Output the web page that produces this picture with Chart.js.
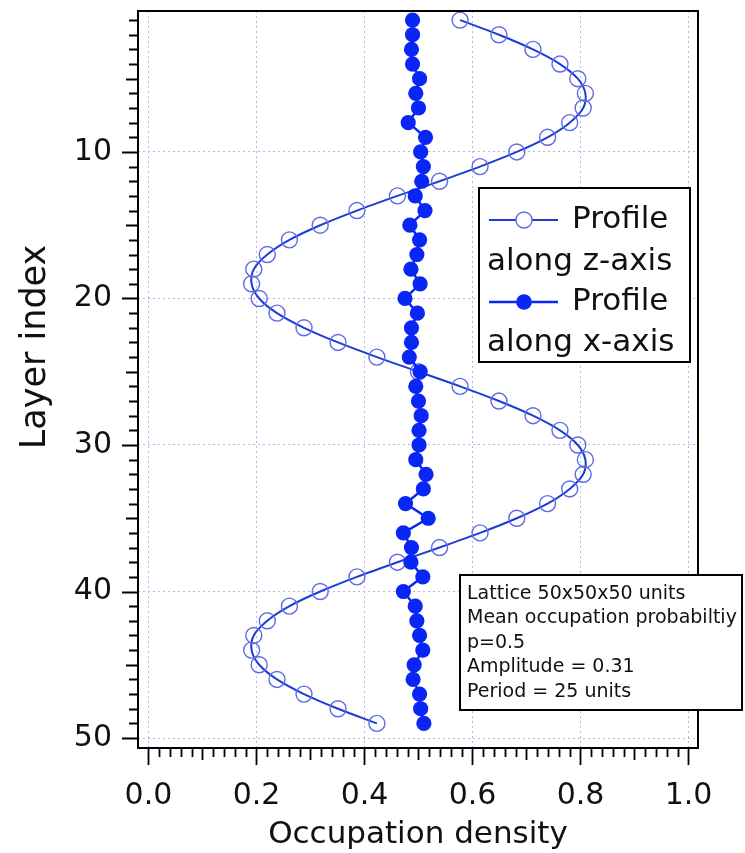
<!DOCTYPE html>
<html>
<head>
<meta charset="utf-8">
<script src="https://cdn.jsdelivr.net/npm/chart.js@4.4.1/dist/chart.umd.min.js"></script>
<style>
  body { margin: 0; background: #fff; }
  #wrap { width: 745px; height: 853px; }
</style>
</head>
<body>
<div id="wrap"><canvas id="profileChart"></canvas></div>
<script>
// layer index (1..49)
const layers = [1,2,3,4,5,6,7,8,9,10,11,12,13,14,15,16,17,18,19,20,21,22,23,24,25,
  26,27,28,29,30,31,32,33,34,35,36,37,38,39,40,41,42,43,44,45,46,47,48,49];

// profile along z-axis (open circles)
const zProfile = [0.577,0.649,0.712,0.762,0.795,0.809,0.805,0.780,0.739,0.682,0.614,0.539,0.461,
  0.386,0.318,0.261,0.220,0.195,0.191,0.205,0.238,0.288,0.351,0.423,0.500,
  0.577,0.649,0.712,0.762,0.795,0.809,0.805,0.780,0.739,0.682,0.614,0.539,0.461,
  0.386,0.318,0.261,0.220,0.195,0.191,0.205,0.238,0.288,0.351,0.423];

// profile along x-axis (filled circles)
const xProfile = [0.489,0.489,0.487,0.489,0.502,0.495,0.500,0.481,0.513,0.504,0.509,0.506,0.494,
  0.512,0.484,0.502,0.497,0.486,0.503,0.475,0.498,0.487,0.487,0.483,0.503,
  0.495,0.500,0.505,0.501,0.501,0.495,0.514,0.509,0.476,0.518,0.472,0.487,0.486,
  0.508,0.472,0.494,0.497,0.502,0.508,0.492,0.490,0.502,0.504,0.510];

const xTicks = [0, 0.2, 0.4, 0.6, 0.8, 1.0];
const yTicks = [10, 20, 30, 40, 50];

const infoLines = ['Lattice 50x50x50 units', 'Mean occupation probabiltiy', 'p=0.5',
  'Amplitude = 0.31', 'Period = 25 units'];

const FONT = '"DejaVu Sans", sans-serif';
const BLUE = '#0a26f5';
const ZLINE = '#1c3cd4';
const ZRING = '#5d6ce6';

const toPoints = (vals) => vals.map((v, i) => ({ x: v, y: layers[i] }));

// frame, minor ticks, titles, legend and text box
const decor = {
  id: 'decor',
  afterDraw(chart) {
    const ctx = chart.ctx;
    const a = chart.chartArea;
    const xs = chart.scales.x, ys = chart.scales.y;
    ctx.save();
    ctx.strokeStyle = '#000';
    ctx.lineWidth = 2;
    ctx.strokeRect(a.left, a.top, a.right - a.left, a.bottom - a.top);

    ctx.lineWidth = 1.8;
    ctx.beginPath();
    for (let k = 1; k <= 50; k++) {
      const py = Math.round(ys.getPixelForValue(k)) + 0.5;
      const len = k % 10 === 0 ? 16 : (k % 5 === 0 ? 12 : 9);
      ctx.moveTo(a.left, py);
      ctx.lineTo(a.left - len, py);
    }
    for (let k = 0; k <= 50; k++) {
      const px = Math.round(xs.getPixelForValue(k / 50)) + 0.5;
      const len = k % 10 === 0 ? 17 : (k % 5 === 0 ? 12 : 9);
      ctx.moveTo(px, a.bottom);
      ctx.lineTo(px, a.bottom + len);
    }
    ctx.stroke();

    // axis titles
    ctx.fillStyle = '#111';
    ctx.font = '31px ' + FONT;
    ctx.textAlign = 'center';
    ctx.textBaseline = 'middle';
    ctx.fillText('Occupation density', (a.left + a.right) / 2, 835);
    ctx.save();
    ctx.translate(36, 347);
    ctx.rotate(-Math.PI / 2);
    ctx.font = '35px ' + FONT;
    ctx.fillText('Layer index', 0, 0);
    ctx.restore();

    // legend
    ctx.fillStyle = '#fff';
    ctx.fillRect(479, 188, 211, 174);
    ctx.strokeStyle = '#000';
    ctx.lineWidth = 2;
    ctx.strokeRect(479, 188, 211, 174);
    ctx.strokeStyle = ZLINE;
    ctx.lineWidth = 2;
    ctx.beginPath(); ctx.moveTo(489, 220); ctx.lineTo(558, 220); ctx.stroke();
    ctx.fillStyle = '#fff';
    ctx.strokeStyle = ZRING;
    ctx.lineWidth = 1.4;
    ctx.beginPath(); ctx.arc(524, 220, 8, 0, Math.PI * 2); ctx.fill(); ctx.stroke();
    ctx.strokeStyle = BLUE;
    ctx.lineWidth = 2.5;
    ctx.beginPath(); ctx.moveTo(489, 302); ctx.lineTo(558, 302); ctx.stroke();
    ctx.fillStyle = BLUE;
    ctx.beginPath(); ctx.arc(524, 302, 7.8, 0, Math.PI * 2); ctx.fill();
    ctx.fillStyle = '#111';
    ctx.font = '31px ' + FONT;
    ctx.textAlign = 'left';
    ctx.fillText('Profile', 572, 220);
    ctx.fillText('along z-axis', 487, 262);
    ctx.fillText('Profile', 572, 302);
    ctx.fillText('along x-axis', 487, 343);

    // info box
    ctx.fillStyle = '#fff';
    ctx.fillRect(460, 575, 282, 135);
    ctx.strokeStyle = '#000';
    ctx.lineWidth = 2;
    ctx.strokeRect(460, 575, 282, 135);
    ctx.fillStyle = '#111';
    ctx.font = '19px ' + FONT;
    infoLines.forEach((t, i) => ctx.fillText(t, 467, 594 + i * 24.4));
    ctx.restore();
  }
};

new Chart(document.getElementById('profileChart'), {
  type: 'scatter',
  data: {
    datasets: [
      {
        label: 'Profile along x-axis',
        data: toPoints(xProfile),
        showLine: true,
        borderColor: BLUE,
        borderWidth: 2.5,
        backgroundColor: BLUE,
        pointBackgroundColor: BLUE,
        pointBorderColor: BLUE,
        pointBorderWidth: 0,
        pointRadius: 7.6
      },
      {
        label: 'Profile along z-axis',
        data: toPoints(zProfile),
        showLine: true,
        tension: 0.3,
        borderColor: ZLINE,
        borderWidth: 2,
        backgroundColor: 'rgba(0,0,0,0)',
        pointBackgroundColor: 'rgba(0,0,0,0)',
        pointBorderColor: ZRING,
        pointBorderWidth: 1.4,
        pointRadius: 8
      }
    ]
  },
  options: {
    responsive: true,
    maintainAspectRatio: false,
    animation: false,
    layout: { padding: { top: 11, right: 47, left: 0, bottom: 0 } },
    plugins: { legend: { display: false }, tooltip: { enabled: false } },
    scales: {
      x: {
        type: 'linear',
        min: -0.0194,
        max: 1.0176,
        afterBuildTicks: (s) => { s.ticks = xTicks.map(v => ({ value: v })); },
        afterFit: (s) => { s.height = 105; s.paddingLeft = 0; s.paddingRight = 0; },
        border: { display: false, dash: [2, 3] },
        grid: { drawTicks: false, color: '#b4b4f0', lineWidth: 1 },
        ticks: {
          padding: 30,
          color: '#111',
          font: { family: FONT, size: 30 },
          callback: (v) => Number(v).toFixed(1)
        }
      },
      y: {
        type: 'linear',
        reverse: true,
        min: 0.38,
        max: 50.68,
        afterBuildTicks: (s) => { s.ticks = yTicks.map(v => ({ value: v })); },
        afterFit: (s) => { s.width = 138; s.paddingTop = 0; s.paddingBottom = 0; },
        border: { display: false, dash: [2, 3] },
        grid: { drawTicks: false, color: '#b4b4f0', lineWidth: 1 },
        ticks: {
          padding: 26,
          color: '#111',
          font: { family: FONT, size: 30 }
        }
      }
    }
  },
  plugins: [decor]
});
</script>
</body>
</html>
